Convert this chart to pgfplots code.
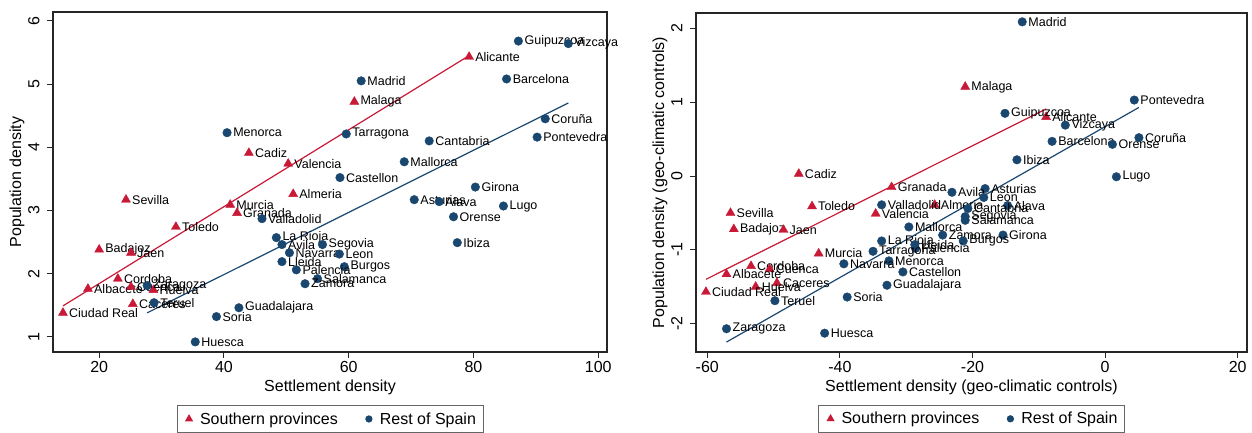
\documentclass[border=0pt]{standalone}
\usepackage{fontspec}
\setmainfont{Liberation Sans}
\usepackage{pgfplots}
\usepackage{pgfplotstable}
\pgfplotsset{compat=1.18}
\definecolor{sred}{RGB}{200,25,55}
\definecolor{sblue}{RGB}{26,71,111}

\pgfplotstableread[col sep=comma]{
x,y,name
79.3,5.43,Alicante
60.9,4.72,Malaga
44.0,3.91,Cadiz
50.3,3.74,Valencia
51.1,3.26,Almeria
24.3,3.17,Sevilla
41.0,3.09,Murcia
42.1,2.96,Granada
32.3,2.74,Toledo
20.0,2.38,Badajoz
25.1,2.33,Jaen
23.0,1.92,Cordoba
18.2,1.76,Albacete
25.1,1.79,Cuenca
28.7,1.74,Huelva
25.4,1.52,Caceres
14.2,1.38,Ciudad Real
}\leftsouth

\pgfplotstableread[col sep=comma]{
x,y,name
87.2,5.68,Guipuzcoa
95.2,5.64,Vizcaya
62.0,5.05,Madrid
85.3,5.08,Barcelona
91.5,4.45,Coruña
59.6,4.21,Tarragona
90.2,4.16,Pontevedra
72.9,4.10,Cantabria
40.5,4.23,Menorca
68.9,3.77,Mallorca
58.6,3.52,Castellon
80.3,3.37,Girona
70.5,3.17,Asturias
74.5,3.14,Alava
84.8,3.07,Lugo
76.8,2.90,Orense
77.4,2.49,Ibiza
46.1,2.87,Valladolid
48.4,2.57,La Rioja
49.3,2.46,Avila
55.8,2.46,Segovia
50.5,2.33,Navarra
58.5,2.31,Leon
49.3,2.19,Lleida
59.3,2.11,Burgos
51.6,2.06,Palencia
55.0,1.92,Salamanca
53.0,1.84,Zamora
27.7,1.81,Zaragoza
28.8,1.54,Teruel
42.4,1.46,Guadalajara
38.8,1.32,Soria
35.4,0.92,Huesca
}\leftrest

\pgfplotstableread[col sep=comma]{
x,y,name
-21.1,1.21,Malaga
-8.9,0.80,Alicante
-46.2,0.03,Cadiz
-32.2,-0.15,Granada
-25.7,-0.39,Almeria
-44.2,-0.41,Toledo
-56.5,-0.50,Sevilla
-34.6,-0.51,Valencia
-56.0,-0.72,Badajoz
-48.5,-0.73,Jaen
-43.2,-1.05,Murcia
-53.4,-1.22,Cordoba
-50.6,-1.26,Cuenca
-57.1,-1.33,Albacete
-49.5,-1.45,Caceres
-52.7,-1.50,Huelva
-60.2,-1.57,Ciudad Real
}\rightsouth

\pgfplotstableread[col sep=comma]{
x,y,name
-12.5,2.09,Madrid
4.4,1.03,Pontevedra
-15.1,0.85,Guipuzcoa
-6.0,0.69,Vizcaya
5.1,0.52,Coruña
-8.0,0.47,Barcelona
1.1,0.43,Orense
-13.3,0.22,Ibiza
1.7,-0.01,Lugo
-18.1,-0.17,Asturias
-23.1,-0.22,Avila
-18.3,-0.29,Leon
-33.7,-0.39,Valladolid
-14.7,-0.40,Alava
-20.7,-0.44,Cantabria
-21.1,-0.55,Segovia
-21.1,-0.60,Salamanca
-29.6,-0.69,Mallorca
-24.5,-0.80,Zamora
-15.4,-0.80,Girona
-33.7,-0.88,La Rioja
-21.4,-0.88,Burgos
-28.7,-0.93,Lleida
-28.6,-0.98,Palencia
-35.0,-1.02,Tarragona
-32.6,-1.15,Menorca
-39.4,-1.19,Navarra
-30.5,-1.30,Castellon
-32.9,-1.48,Guadalajara
-38.9,-1.64,Soria
-49.8,-1.69,Teruel
-57.1,-2.07,Zaragoza
-42.3,-2.13,Huesca
}\rightrest

\pgfplotsset{
  panel/.style={
    scale only axis,
    axis line style={black!85, line width=1.2pt},
    tick style={black!85, line width=1pt},
    tick align=outside,
    major tick length=6pt,
    xtick pos=bottom, ytick pos=left,
    ticklabel style={font=\fontsize{16}{16}\selectfont},
    yticklabel style={rotate=90, anchor=south},
    yticklabel shift=4pt,
    label style={font=\fontsize{16}{19}\selectfont},
    /pgf/number format/assume math mode=true,
    legend style={anchor=north, legend columns=2, draw=black!60, line width=0.8pt,
      font=\fontsize{16}{19}\selectfont, inner xsep=5pt, inner ysep=5pt,
      /tikz/every even column/.append style={column sep=22pt}},
    legend cell align=left,
  },
  legimg/.style={legend image code/.code={%
      \path[draw=none, fill=none] (0pt,-4pt) rectangle (16pt,4pt);
      \draw[##1] plot coordinates {(7pt,0pt)};}},
  south/.style={only marks, mark=triangle*, mark size=5.2pt, color=sred, forget plot,
    nodes near coords, point meta=explicit symbolic,
    nodes near coords style={anchor=west, font=\fontsize{12.5}{13}\selectfont, text=black, inner sep=0pt, xshift=6pt}},
  rest/.style={only marks, mark=*, mark size=4.3pt, color=sblue, forget plot,
    nodes near coords, point meta=explicit symbolic,
    nodes near coords style={anchor=west, font=\fontsize{12.5}{13}\selectfont, text=black, inner sep=0pt, xshift=6pt}},
}

\begin{document}
\begin{tikzpicture}
\begin{axis}[panel,
  at={(53pt,81pt)}, anchor=south west,
  width=554pt, height=340pt,
  xmin=12.6, xmax=101.4, ymin=0.76, ymax=6.14,
  xtick={20,40,60,80,100}, ytick={1,2,3,4,5,6},
  xlabel={Settlement density}, ylabel={Population density},
  xlabel style={at={(axis description cs:0.5,-0.103)}, anchor=center},
  ylabel style={at={(axis description cs:-0.065,0.5)}, anchor=center},
  legend style={at={(axis description cs:0.5,-0.156)}},
]
\addplot[sred, line width=1.2pt, forget plot] coordinates {(14.2,1.49) (79.3,5.45)};
\addplot[sblue, line width=1.2pt, forget plot] coordinates {(27.7,1.38) (95.2,4.70)};
\addplot[south] table[x=x, y=y, meta=name] {\leftsouth};
\addplot[rest] table[x=x, y=y, meta=name] {\leftrest};
\addlegendimage{only marks, mark=triangle*, mark size=4pt, sred, legimg}
\addlegendentry{Southern provinces}
\addlegendimage{only marks, mark=*, mark size=3.2pt, sblue, legimg}
\addlegendentry{Rest of Spain}
\end{axis}

\begin{axis}[panel,
  at={(696pt,81pt)}, anchor=south west,
  width=551pt, height=339pt,
  xmin=-61.7, xmax=21.4, ymin=-2.385, ymax=2.21,
  xtick={-60,-40,-20,0,20}, xticklabels={-60,-40,-20,0,20},
  ytick={-2,-1,0,1,2}, yticklabels={-2,-1,0,1,2},
  xlabel={Settlement density (geo-climatic controls)},
  ylabel={Population density (geo-climatic controls)},
  xlabel style={at={(axis description cs:0.5,-0.103)}, anchor=center},
  ylabel style={at={(axis description cs:-0.0653,0.5)}, anchor=center},
  legend style={at={(axis description cs:0.5,-0.156)}},
]
\addplot[sred, line width=1.2pt, forget plot] coordinates {(-60.2,-1.40) (-8.9,0.91)};
\addplot[sblue, line width=1.2pt, forget plot] coordinates {(-57.1,-2.25) (5.1,0.93)};
\addplot[south] table[x=x, y=y, meta=name] {\rightsouth};
\addplot[rest] table[x=x, y=y, meta=name] {\rightrest};
\addlegendimage{only marks, mark=triangle*, mark size=4pt, sred, legimg}
\addlegendentry{Southern provinces}
\addlegendimage{only marks, mark=*, mark size=3.2pt, sblue, legimg}
\addlegendentry{Rest of Spain}
\end{axis}
\pgfresetboundingbox
\useasboundingbox (0,0) rectangle (1252pt,433pt);
\end{tikzpicture}
\end{document}
